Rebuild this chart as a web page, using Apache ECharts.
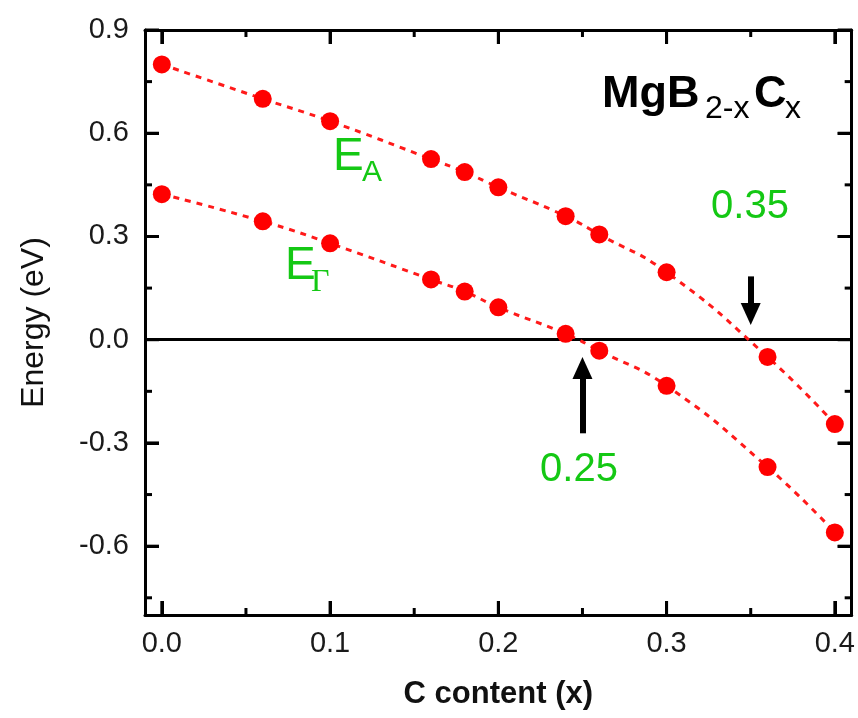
<!DOCTYPE html>
<html>
<head>
<meta charset="utf-8">
<script src="https://cdn.jsdelivr.net/npm/echarts@6/dist/echarts.min.js"></script>
<style>
  html, body { margin: 0; padding: 0; background: #fff; }
  #chart { width: 858px; height: 718px; }
</style>
</head>
<body>
<div id="chart"></div>
<script>
// Carbon content x in MgB(2-x)C(x)
const carbonContent = [0, 0.06, 0.1, 0.16, 0.18, 0.2, 0.24, 0.26, 0.3, 0.36, 0.4];
// Band energies (eV) at A and Gamma
const energyA     = [0.80, 0.70, 0.635, 0.525, 0.487, 0.443, 0.359, 0.306, 0.196, -0.05, -0.245];
const energyGamma = [0.423, 0.344, 0.28, 0.175, 0.14, 0.094, 0.017, -0.032, -0.134, -0.37, -0.56];

// Axis ticks
const xMajorTicks = [0, 0.1, 0.2, 0.3, 0.4];
const xMinorTicks = [0.05, 0.15, 0.25, 0.35];
const yMajorTicks = [-0.6, -0.3, 0, 0.3, 0.6, 0.9];
const yMinorTicks = [-0.75, -0.45, -0.15, 0.15, 0.45, 0.75];

// Zero-crossing compositions marked with arrows
const crossingA = 0.35;
const crossingGamma = 0.25;

const FONT = '"Liberation Sans", Arial, sans-serif';
const GREEN = '#14c814';
const X_RANGE = { min: -0.01, max: 0.41 };
const Y_RANGE = { min: -0.8, max: 0.9 };
const MAJOR_LEN = 14, MINOR_LEN = 7;

function axis(kind, position, withLabels) {
  const range = kind === 'x' ? X_RANGE : Y_RANGE;
  const ticks = kind === 'x' ? xMajorTicks : yMajorTicks;
  return {
    type: 'value',
    position: position,
    min: range.min,
    max: range.max,
    splitLine: { show: false },
    axisLine: { show: true, onZero: false, lineStyle: { color: '#000', width: 3 } },
    axisTick: {
      show: true, inside: true, length: MAJOR_LEN, customValues: ticks,
      lineStyle: { color: '#000', width: 3 }
    },
    axisLabel: {
      show: withLabels,
      customValues: ticks,
      formatter: v => v.toFixed(1),
      fontFamily: FONT,
      fontSize: 29,
      color: '#1a1a1a',
      margin: kind === 'x' ? 14 : 16
    }
  };
}

const xMain = axis('x', 'bottom', true);
xMain.name = 'C content (x)';
xMain.nameLocation = 'middle';
xMain.nameGap = 64;
xMain.nameTextStyle = { fontFamily: FONT, fontSize: 31, fontWeight: 'bold', color: '#111' };

const yMain = axis('y', 'left', true);
yMain.name = 'Energy (eV)';
yMain.nameLocation = 'middle';
yMain.nameGap = 95;
yMain.nameTextStyle = { fontFamily: FONT, fontSize: 32, color: '#111' };

function pairs(xs, ys) { return xs.map((x, i) => [x, ys[i]]); }

const lineSeries = (name, values) => ({
  name: name,
  type: 'line',
  data: pairs(carbonContent, values),
  smooth: 0.5,
  symbol: 'circle',
  symbolSize: 18,
  itemStyle: { color: '#ff0000' },
  lineStyle: { color: '#ff1a1a', width: 3, type: [6, 6] },
  z: 3
});

const seriesA = lineSeries('E_A', energyA);
seriesA.markLine = {
  silent: true, animation: false, symbol: 'none',
  label: { show: false },
  lineStyle: { color: '#000', width: 3, type: 'solid' },
  data: [{ yAxis: 0 }],
  z: 2
};

const seriesG = lineSeries('E_Gamma', energyGamma);
seriesG.markLine = {
  silent: true, animation: false,
  symbol: ['none', 'triangle'],
  symbolSize: [20, 22],
  label: { show: false },
  lineStyle: { color: '#000', width: 6, type: 'solid' },
  data: [
    [{ coord: [crossingA, 0.184] }, { coord: [crossingA, 0.075] }],
    [{ coord: [crossingGamma, -0.272] }, { coord: [crossingGamma, -0.082] }]
  ]
};

function txt(text, x, y, size, opts) {
  opts = opts || {};
  return {
    type: 'text', x: x, y: y, z: 10,
    style: {
      text: text,
      fontFamily: opts.family || FONT,
      fontSize: size,
      fontWeight: opts.weight || 'normal',
      fill: opts.color || GREEN,
      align: opts.align || 'left',
      verticalAlign: 'middle'
    }
  };
}

const annotationTexts = [
  // compound label
  txt('MgB', 602, 95, 45, { weight: 'bold', color: '#000' }),
  txt('2-x', 705, 109, 32, { color: '#000' }),
  txt('C', 754, 95, 45, { weight: 'bold', color: '#000' }),
  txt('x', 785, 109, 32, { color: '#000' }),
  // band labels
  txt('E', 333, 157, 46),
  txt('A', 362, 173, 30),
  txt('E', 285, 266, 46),
  txt('Γ', 311, 283, 32, { family: '"Liberation Serif", "Times New Roman", serif' }),
  // crossing values
  txt('0.35', 750, 207, 40, { align: 'center' }),
  txt('0.25', 579, 470, 40, { align: 'center' })
];

const chart = echarts.init(document.getElementById('chart'), null, { renderer: 'canvas' });
chart.setOption({
  animation: false,
  backgroundColor: '#fff',
  grid: { left: 145, right: 6, top: 30, bottom: 103 },
  xAxis: [xMain, axis('x', 'top', false)],
  yAxis: [yMain, axis('y', 'right', false)],
  series: [seriesA, seriesG]
});

// Inward major and minor ticks on all four sides, placed through the axis scales
(function drawFrameTicks() {
  const W = 3;
  function tickRect(x, y, w, h) {
    return {
      type: 'rect', z: 50, silent: true,
      shape: { x: x, y: y, width: w, height: h },
      style: { fill: '#000' }
    };
  }
  const px = v => Number(chart.convertToPixel({ xAxisIndex: 0 }, v));
  const py = v => Number(chart.convertToPixel({ yAxisIndex: 0 }, v));
  const frameLeft = px(X_RANGE.min), frameRight = px(X_RANGE.max);
  const frameBottom = py(Y_RANGE.min), frameTop = py(Y_RANGE.max);
  const tickRects = [];
  [[xMajorTicks, MAJOR_LEN], [xMinorTicks, MINOR_LEN]].forEach(([vals, len]) => {
    vals.forEach(v => {
      const x = px(v) - W / 2;
      tickRects.push(tickRect(x, frameBottom - len, W, len));
      tickRects.push(tickRect(x, frameTop, W, len));
    });
  });
  [[yMajorTicks, MAJOR_LEN], [yMinorTicks, MINOR_LEN]].forEach(([vals, len]) => {
    vals.forEach(v => {
      const y = py(v) - W / 2;
      tickRects.push(tickRect(frameLeft, y, len, W));
      tickRects.push(tickRect(frameRight - len, y, len, W));
    });
  });
  chart.setOption({ graphic: annotationTexts.concat(tickRects) });
})();
</script>
</body>
</html>
